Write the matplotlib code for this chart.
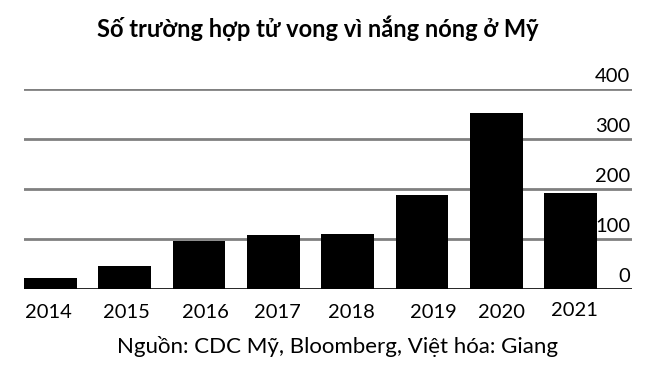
import matplotlib
matplotlib.use("Agg")
import matplotlib.pyplot as plt
import matplotlib.transforms as mtransforms

years = ["2014", "2015", "2016", "2017", "2018", "2019", "2020", "2021"]
deaths = [22, 46, 96, 108, 110, 188, 352, 192]
y_ticks = [0, 100, 200, 300, 400]
y_tick_labels = ["0", "100", "200", "300", "400"]
title = "Số trường hợp tử vong vì nắng nóng ở Mỹ"
source = "Nguồn: CDC Mỹ, Bloomberg, Việt hóa: Giang"

# x-label pixel positions as placed in the reference (layout only)
label_px = [48.8, 126.7, 205, 277.5, 351.3, 433.8, 501.8, 574.8]
label_base = [318, 318, 318, 318, 318, 318, 318, 316.5]

W, H = 646, 376
plt.rcParams['font.family'] = ['Lato', 'DejaVu Sans']
fig = plt.figure(figsize=(W / 100, H / 100), dpi=100)
left, right, bottom_px, top_px = 24, 632, 289, 89
ax = fig.add_axes([left / W, 1 - bottom_px / H, (right - left) / W, (bottom_px - top_px) / H])

x = list(range(len(years)))
ax.bar(x, deaths, width=0.71, color="black", zorder=3)
ax.set_ylim(0, 400)
ax.set_xlim(-0.355, 7.825)

for v in y_ticks[1:]:
    ax.axhline(v, color="#808080", lw=2, zorder=1)
ax.axhline(0, color="black", lw=1.2, zorder=4)

for s in ax.spines.values():
    s.set_visible(False)
ax.set_xticks([])
ax.set_yticks([])

off = mtransforms.offset_copy(ax.get_yaxis_transform(), fig=fig, x=0, y=5, units='points')
for v, lab in zip(y_ticks, y_tick_labels):
    ax.text(0.997, v, lab, transform=off, ha="right", va="baseline", fontsize=14.5, color="black", clip_on=False)

for px, by, lab in zip(label_px, label_base, years):
    fig.text(px / W, 1 - by / H, lab, ha="center", va="baseline", fontsize=14.5, color="black")

fig.text(317.5 / W, 1 - 37 / H, title, ha="center", va="baseline", fontsize=17, fontweight="bold", color="black")
fig.text(337.5 / W, 1 - 353 / H, source, ha="center", va="baseline", fontsize=16, color="black")

fig.savefig("out.png", dpi=100)
